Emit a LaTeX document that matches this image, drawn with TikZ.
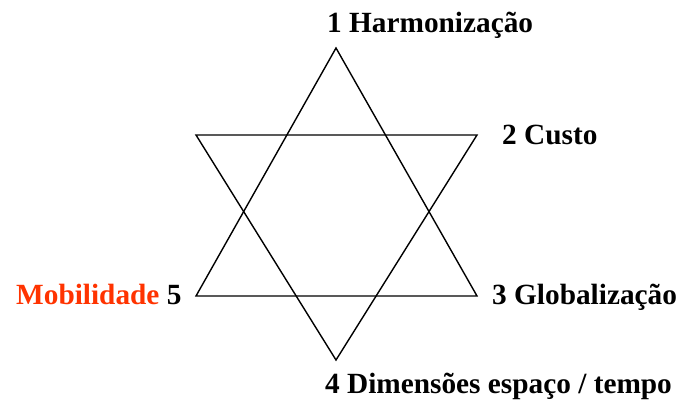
\documentclass[tikz,border=0pt]{standalone}
\usepackage{fontspec}
\setmainfont{Liberation Serif}
\definecolor{mobred}{RGB}{255,51,0}
\begin{document}
\begin{tikzpicture}[x=1pt,y=-1pt,
  starline/.style={draw=black,line width=1.4pt,line join=miter},
  lbl/.style={anchor=base west,inner sep=0pt,font=\fontsize{29.3}{31}\selectfont\bfseries}]
\useasboundingbox (0,0) rectangle (684,403);
\coordinate (T) at (336,48);
\coordinate (BL) at (196,296);
\coordinate (BR) at (477,296);
\coordinate (TL) at (196,135);
\coordinate (TR) at (477,135);
\coordinate (B) at (336,360);
\draw[starline] (T) -- (BR) -- (BL) -- cycle;
\draw[starline] (TL) -- (TR) -- (B) -- cycle;
\node[lbl] (l1) at (327,33) {1 Harmonização};
\node[lbl] (l2) at (502,145) {2 Custo};
\node[lbl] (l3) at (492,304) {3 Globalização};
\node[lbl] (l4) at (325,393) {4 Dimensões espaço / tempo};
\node[lbl] (l5) at (16,304) {\textcolor{mobred}{Mobilidade} 5};
\end{tikzpicture}
\end{document}
